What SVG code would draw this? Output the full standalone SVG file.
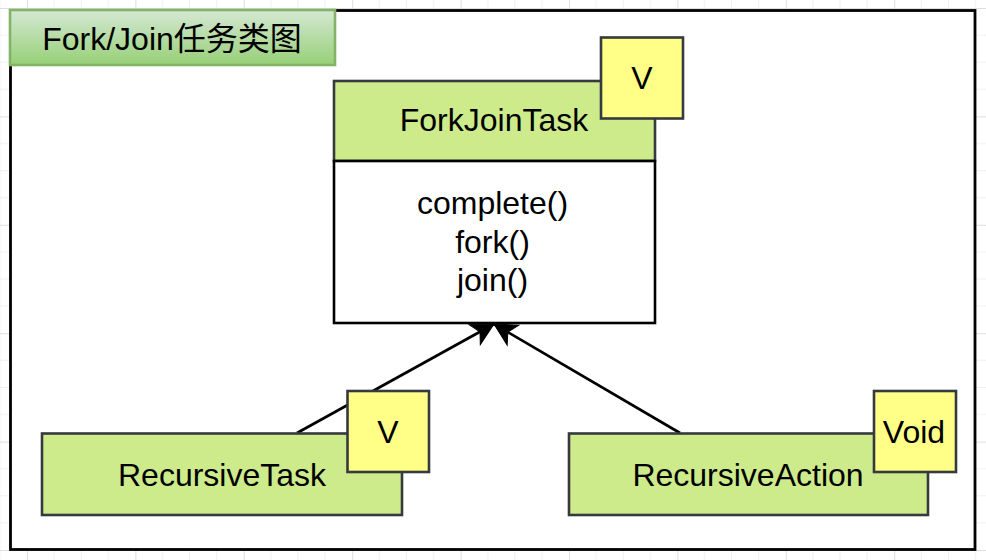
<svg xmlns="http://www.w3.org/2000/svg" width="986" height="560" viewBox="0 0 986 560">
  <defs>
    <pattern id="grid" patternUnits="userSpaceOnUse" x="27" y="8" width="108.4" height="108.4">
      <path d="M27.1 0V108.4M54.2 0V108.4M81.3 0V108.4M0 27.1H108.4M0 54.2H108.4M0 81.3H108.4" stroke="#efefef" stroke-width="1" fill="none"/>
      <path d="M0.5 0V108.4M0 0.5H108.4" stroke="#dedede" stroke-width="1" fill="none"/>
    </pattern>
    <linearGradient id="titleGrad" x1="0" y1="0" x2="0" y2="1">
      <stop offset="0" stop-color="#d5e8d4"/>
      <stop offset="1" stop-color="#97d077"/>
    </linearGradient>
    <marker id="arrow" markerUnits="userSpaceOnUse" viewBox="-24 -13 25 26" refX="0" refY="0" markerWidth="25" markerHeight="26" orient="auto" overflow="visible">
      <path d="M0 0L-22 -11.5L-16 0L-22 11.5Z" fill="#000" stroke="#000" stroke-width="1"/>
    </marker>
    <style>
      text { font-family: "Liberation Sans", Arial, "Noto Sans CJK SC", sans-serif; font-size: 32px; fill: #000; text-anchor: middle; }
      .cls { fill: #cdeb8b; stroke: #36393d; stroke-width: 2.6; }
      .param { fill: #ffff88; stroke: #36393d; stroke-width: 2.6; }
      .body { fill: #ffffff; stroke: #000; stroke-width: 2.6; }
      .edge { fill: none; stroke: #000; stroke-width: 2.7; marker-end: url(#arrow); }
    </style>
  </defs>

  <rect x="0" y="0" width="986" height="560" fill="#ffffff"/>
  <rect x="0" y="0" width="986" height="560" fill="url(#grid)"/>

  <g id="frame">
    <rect x="10.5" y="10.5" width="964.5" height="539" fill="#ffffff" stroke="#000" stroke-width="2.8"/>
  </g>

  <g id="title">
    <rect x="10" y="10" width="325" height="55" fill="url(#titleGrad)" stroke="#82b366" stroke-width="2.6"/>
    <text x="172" y="49.5">Fork/Join任务类图</text>
  </g>

  <g id="connectors">
    <path class="edge" d="M297 433L494 324"/>
    <path class="edge" d="M680 433L494 324"/>
  </g>

  <g id="forkJoinTask">
    <rect class="cls" x="334" y="81" width="321" height="80"/>
    <text x="494" y="131">ForkJoinTask</text>
    <rect class="body" x="334" y="161" width="321" height="162"/>
    <text x="492.5" y="214">complete()</text>
    <text x="492.5" y="252.5">fork()</text>
    <text x="492.5" y="291">join()</text>
  </g>
  <g id="forkJoinTask-param">
    <rect class="param" x="601" y="37.5" width="82" height="81"/>
    <text x="642" y="89">V</text>
  </g>

  <g id="recursiveTask">
    <rect class="cls" x="42" y="433.5" width="360" height="81.5"/>
    <text x="222" y="486">RecursiveTask</text>
  </g>
  <g id="recursiveTask-param">
    <rect class="param" x="347.5" y="391" width="81.5" height="81"/>
    <text x="388" y="443">V</text>
  </g>

  <g id="recursiveAction">
    <rect class="cls" x="569" y="433.5" width="359" height="81.5"/>
    <text x="748" y="486">RecursiveAction</text>
  </g>
  <g id="recursiveAction-param">
    <rect class="param" x="874" y="391" width="82" height="81"/>
    <text x="914" y="443">Void</text>
  </g>
</svg>
